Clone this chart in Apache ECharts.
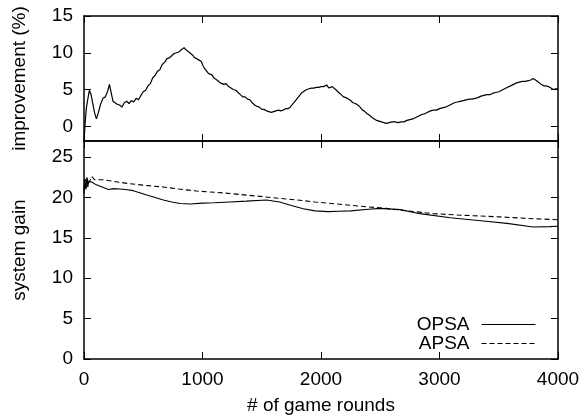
<!DOCTYPE html>
<html><head><meta charset="utf-8">
<script src="https://cdn.jsdelivr.net/npm/echarts@6/dist/echarts.min.js"></script>
<style>html,body{margin:0;padding:0;background:#fff}#c{width:584px;height:420px}</style>
</head><body><div id="c"></div>
<script>
// ---- data ----
const xTicks = [0, 1000, 2000, 3000, 4000];
const improvTicks = [0, 5, 10, 15];
const gainTicks = [0, 5, 10, 15, 20, 25];

const improvX = [0,10,20,30,45,60,75,90,105,120,140,160,180,200,215,230,245,260,280,300,320,340,360,380,400,420,440,460,480,500,520,540,560,580,600,620,640,660,680,700,720,740,760,780,800,820,845,860,870,885,900,915,930,945,960,975,990,1005,1020,1035,1050,1065,1080,1095,1110,1130,1150,1165,1180,1200,1220,1240,1260,1280,1300,1320,1340,1360,1380,1400,1420,1440,1460,1480,1500,1520,1540,1560,1580,1600,1620,1640,1660,1680,1700,1720,1740,1760,1780,1800,1820,1840,1860,1880,1900,1920,1940,1960,1980,2000,2020,2035,2050,2065,2080,2095,2110,2130,2150,2170,2190,2210,2230,2250,2270,2290,2310,2330,2350,2370,2390,2410,2430,2450,2470,2490,2510,2530,2550,2575,2600,2625,2650,2675,2700,2725,2750,2775,2800,2825,2850,2875,2900,2925,2950,2975,3000,3025,3050,3075,3100,3125,3150,3175,3200,3225,3250,3275,3300,3325,3350,3375,3400,3425,3450,3475,3500,3525,3550,3575,3600,3625,3650,3675,3700,3725,3750,3770,3790,3805,3820,3835,3850,3865,3880,3900,3920,3940,3960,3980,4000];
const improvY = [-1.9,0.5,2.5,3.5,4.9,4.3,3.0,1.8,1.0,1.8,3.0,3.8,4.0,4.8,5.7,4.5,3.4,3.2,3.0,2.9,2.6,3.2,3.4,3.1,3.5,3.3,3.8,3.6,4.2,4.7,4.9,5.5,5.8,6.6,6.9,7.5,7.7,8.4,8.7,9.2,9.3,9.6,9.9,10.0,10.1,10.4,10.7,10.4,10.3,10.1,9.9,9.7,9.4,9.6,9.1,9.3,8.8,8.2,7.8,7.6,7.2,7.4,7.0,6.6,6.4,6.2,5.9,5.8,5.7,5.8,5.4,5.2,5.0,4.9,4.6,4.3,4.0,4.0,3.7,3.6,3.2,2.9,2.7,2.6,2.3,2.3,2.1,2.0,1.9,2.0,2.1,2.2,2.1,2.2,2.4,2.4,2.6,3.0,3.4,3.8,4.2,4.6,4.8,5.0,5.1,5.2,5.2,5.3,5.3,5.4,5.4,5.3,5.6,5.2,5.1,5.4,5.3,4.9,4.6,4.3,4.0,3.9,3.7,3.5,3.2,3.1,2.9,2.6,2.2,2.0,1.7,1.5,1.2,1.0,0.8,0.7,0.6,0.5,0.4,0.5,0.6,0.6,0.5,0.6,0.6,0.8,0.9,1.0,1.2,1.4,1.6,1.7,1.9,2.1,2.2,2.2,2.4,2.5,2.6,2.8,3.0,3.2,3.3,3.4,3.5,3.6,3.7,3.7,3.8,3.9,4.1,4.2,4.3,4.3,4.5,4.6,4.7,4.9,5.1,5.3,5.5,5.7,5.9,6.0,6.1,6.1,6.2,6.3,6.5,6.3,6.2,6.0,5.8,5.6,5.5,5.5,5.4,5.2,5.0,5.1,5.1];

const opsaX = [0,8,16,24,32,40,50,70,100,135,170,205,250,300,350,416,470,530,600,670,740,810,895,1000,1100,1230,1370,1540,1650,1750,1850,1950,2060,2150,2250,2400,2500,2670,2835,3090,3370,3570,3790,3930,4000];
const opsaY = [20.5,22.3,21.0,22.5,21.3,22.0,21.8,21.9,21.6,21.4,21.2,21.0,21.1,21.05,21.0,20.85,20.6,20.3,20.0,19.7,19.45,19.25,19.2,19.3,19.35,19.45,19.55,19.7,19.45,19.0,18.6,18.35,18.25,18.3,18.35,18.55,18.65,18.5,18.0,17.5,17.1,16.8,16.35,16.4,16.45];

const apsaX = [0,10,20,30,45,65,90,163,250,388,520,669,800,950,1100,1232,1370,1513,1650,1795,1950,2062,2200,2385,2550,2700,2948,3200,3511,3750,4000];
const apsaY = [21.0,22.3,21.2,22.4,21.9,22.6,22.2,22.2,22.0,21.7,21.5,21.3,21.05,20.8,20.65,20.5,20.3,20.1,19.9,19.7,19.45,19.3,19.1,18.85,18.65,18.4,18.0,17.8,17.6,17.4,17.25];

const zip = (xs, ys) => xs.map((x, i) => [x, ys[i]]);

const FONT = 'Liberation Sans';
const FS = 19;
const lineCol = '#000';

function xAx(grid, pos, labels) {
  return {
    type: 'value', gridIndex: grid, position: pos, min: 0, max: 4000, interval: 1000,
    axisLine: { show: true, onZero: false, lineStyle: { color: lineCol, width: 1.5 } },
    axisTick: { show: true, inside: true, length: 7, lineStyle: { color: lineCol, width: 1 } },
    axisLabel: { show: labels, color: '#000', fontFamily: FONT, fontSize: FS, margin: 11, formatter: v => String(v) },
    splitLine: { show: false },
    name: labels ? '# of game rounds' : '',
    nameLocation: 'middle', nameGap: 37,
    nameTextStyle: { color: '#000', fontFamily: FONT, fontSize: FS }
  };
}
function yAx(grid, pos, min, max, ticks, labels, name) {
  return {
    type: 'value', gridIndex: grid, position: pos, min: min, max: max,
    axisLine: { show: true, onZero: false, lineStyle: { color: lineCol, width: 1.5 } },
    axisTick: { show: true, inside: true, length: 7, customValues: ticks, lineStyle: { color: lineCol, width: 1 } },
    axisLabel: { show: labels, customValues: ticks, color: '#000', fontFamily: FONT, fontSize: FS, margin: 11 },
    splitLine: { show: false },
    name: labels ? name : '',
    nameLocation: 'middle', nameGap: 55, nameRotate: 90,
    nameTextStyle: { color: '#000', fontFamily: FONT, fontSize: FS }
  };
}

const chart = echarts.init(document.getElementById('c'), null, { renderer: 'canvas' });
chart.setOption({
  animation: false,
  backgroundColor: '#fff',
  grid: [
    { left: 84, top: 16, width: 474, height: 125 },
    { left: 84, top: 141, width: 474, height: 218 }
  ],
  xAxis: [xAx(0, 'bottom', false), xAx(0, 'top', false), xAx(1, 'bottom', true), xAx(1, 'top', false)],
  yAxis: [
    yAx(0, 'left', -2, 15, improvTicks, true, 'improvement (%)'),
    yAx(0, 'right', -2, 15, improvTicks, false, ''),
    yAx(1, 'left', 0, 27, gainTicks, true, 'system gain'),
    yAx(1, 'right', 0, 27, gainTicks, false, '')
  ],
  legend: {
    show: true, orient: 'vertical', right: 43, top: 310, align: 'right',
    itemWidth: 54, itemHeight: 10, itemGap: 0,
    itemStyle: { opacity: 0 },
    lineStyle: { width: 1 },
    textStyle: { color: '#000', fontFamily: FONT, fontSize: FS, padding: [0, 7, 0, 0] },
    data: ['OPSA', 'APSA']
  },
  series: [
    { name: 'improvement', type: 'line', xAxisIndex: 0, yAxisIndex: 0, data: zip(improvX, improvY), showSymbol: false, symbol: 'none', lineStyle: { color: '#000', width: 1.2 } },
    { name: 'OPSA', type: 'line', xAxisIndex: 2, yAxisIndex: 2, data: zip(opsaX, opsaY), showSymbol: false, symbol: 'none', itemStyle: { color: '#000' }, lineStyle: { color: '#000', width: 1.1 } },
    { name: 'APSA', type: 'line', xAxisIndex: 2, yAxisIndex: 2, data: zip(apsaX, apsaY), showSymbol: false, symbol: 'none', itemStyle: { color: '#000' }, lineStyle: { color: '#000', width: 1.1, type: [5, 3] } }
  ]
});
</script></body></html>
